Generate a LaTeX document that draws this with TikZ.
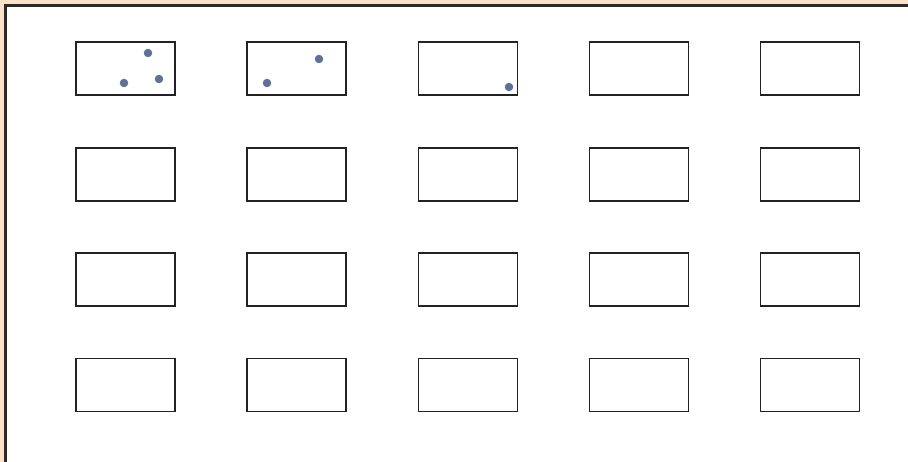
\documentclass[tikz,border=0pt]{standalone}
\usepackage{tikz}
\usetikzlibrary{positioning, calc}
\definecolor{peach}{HTML}{FCE1C6}
\definecolor{framegray}{HTML}{2A2A2A}
\definecolor{seatline}{HTML}{222222}
\definecolor{dotblue}{HTML}{5E7199}

\begin{document}
\begin{tikzpicture}[
  x=1pt, y=1pt,
  seat/.style={rectangle, draw=seatline, line width=1.4pt, fill=white,
               minimum width=99pt, minimum height=53pt, inner sep=0pt},
  pupil/.style={circle, fill=dotblue, minimum size=8.5pt, inner sep=0pt}
]
  \useasboundingbox (0,0) rectangle (908,462);
  \fill[peach] (0,0) rectangle (908,462);
  \begin{scope}
    \clip (0,0) rectangle (908,462);
    \draw[framegray, line width=2.2pt, fill=white] (5.5,-10) rectangle (920,456.5);
  \end{scope}

  % grid of desks, 5 columns and 4 rows
  \foreach \c [count=\i] in {125.5, 296.5, 468, 639, 810} {
    \foreach \r [count=\j] in {393.5, 287.5, 182.5, 77} {
      \node[seat] (s\j\i) at (\c,\r) {};
    }
  }

  % dots
  \node[pupil] (p1) at (148,409) {};
  \node[pupil] (p2) at (124,379) {};
  \node[pupil] (p3) at (159,383) {};
  \node[pupil] (p4) at (319,403) {};
  \node[pupil] (p5) at (267,379) {};
  \node[pupil] (p6) at (509,375) {};
\end{tikzpicture}
\end{document}
